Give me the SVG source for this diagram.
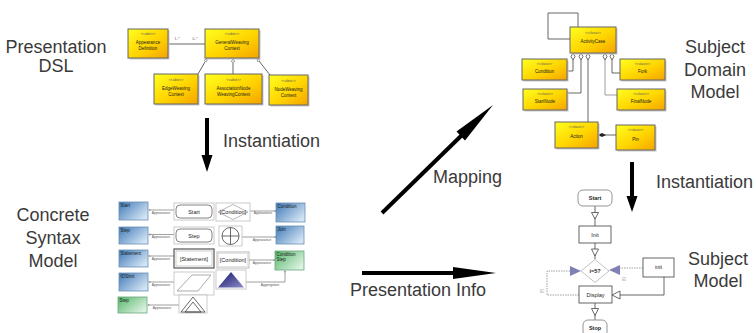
<svg xmlns="http://www.w3.org/2000/svg" width="756" height="333" viewBox="0 0 756 333">
  <defs>
    <linearGradient id="yel" x1="0" y1="0" x2="1" y2="1">
      <stop offset="0" stop-color="#ffff20"/>
      <stop offset="0.55" stop-color="#ffd400"/>
      <stop offset="1" stop-color="#f5a300"/>
    </linearGradient>
    <linearGradient id="blue" x1="0" y1="0" x2="1" y2="0.7">
      <stop offset="0" stop-color="#3f79b6"/>
      <stop offset="1" stop-color="#d3e4f4"/>
    </linearGradient>
    <linearGradient id="green" x1="0" y1="0" x2="1" y2="0.7">
      <stop offset="0" stop-color="#55b56a"/>
      <stop offset="1" stop-color="#dcf2e0"/>
    </linearGradient>
    <linearGradient id="navy" x1="0" y1="0" x2="1" y2="1">
      <stop offset="0" stop-color="#15166a"/>
      <stop offset="1" stop-color="#8c8cc8"/>
    </linearGradient>
    <marker id="gen" viewBox="0 0 6 6" refX="6" refY="3" markerWidth="4" markerHeight="4" orient="auto">
      <path d="M0,0 L6,3 L0,6 Z" fill="#fff" stroke="#666" stroke-width="1"/>
    </marker>
    <marker id="small" viewBox="0 0 6 6" refX="6" refY="3" markerWidth="3" markerHeight="3" orient="auto">
      <path d="M0,0 L6,3 L0,6" fill="none" stroke="#555" stroke-width="1"/>
    </marker>
    <style>
      .lbl { font-family: "Liberation Sans", Arial, sans-serif; font-size: 18px; fill: #3a3a3a; }
      .c { text-anchor: middle; }
      .uml { fill: url(#yel); stroke: #666; stroke-width: 1; }
      .shadow { fill: #c8c8c8; }
      .tiny { font-family: "Liberation Sans", Arial, sans-serif; font-size: 4.5px; fill: #1a1a1a; text-anchor: middle; }
      .micro { font-family: "Liberation Sans", Arial, sans-serif; font-size: 3.4px; fill: #555; text-anchor: middle; }
      .tag { font-family: "Liberation Sans", Arial, sans-serif; font-size: 4.5px; fill: #1a1a1a; }
      .blue { fill: url(#blue); stroke: #6a8fb5; stroke-width: 0.8; }
      .green { fill: url(#green); stroke: #6aa87a; stroke-width: 0.8; }
      .frame { fill: #fff; stroke: #bdbdbd; stroke-width: 0.8; }
      .edge { fill: none; stroke: #555; stroke-width: 0.9; }
      .thin { fill: none; stroke: #777; stroke-width: 0.7; }
      .dash { fill: none; stroke: #888; stroke-width: 0.8; stroke-dasharray: 1.5 1; }
      .big { fill: none; stroke: #000; stroke-width: 4; }
      .box { fill: #fff; stroke: #555; stroke-width: 0.9; }
      .fl { font-family: "Liberation Sans", Arial, sans-serif; font-size: 5.5px; fill: #222; text-anchor: middle; }
      .open { fill: #fff; stroke: #444; stroke-width: 0.8; }
    </style>
  </defs>

  <rect width="756" height="333" fill="#fff"/>

  <!-- section captions -->
  <g id="captions">
    <text class="lbl c" x="56" y="53">Presentation</text>
    <text class="lbl c" x="56" y="72">DSL</text>
    <text class="lbl" x="223" y="147">Instantiation</text>
    <text class="lbl c" x="53" y="221">Concrete</text>
    <text class="lbl c" x="53" y="244">Syntax</text>
    <text class="lbl c" x="53" y="267">Model</text>
    <text class="lbl" x="433" y="183">Mapping</text>
    <text class="lbl" x="350" y="296">Presentation Info</text>
    <text class="lbl c" x="715" y="53">Subject</text>
    <text class="lbl c" x="715" y="76">Domain</text>
    <text class="lbl c" x="715" y="98">Model</text>
    <text class="lbl" x="656" y="188">Instantiation</text>
    <text class="lbl c" x="718" y="265">Subject</text>
    <text class="lbl c" x="718" y="287">Model</text>
  </g>

  <!-- connectors -->
  <g id="connectors">
    <!-- big process arrows -->
    <g id="process-arrows">
      <line class="big" x1="207" y1="118" x2="207" y2="157" stroke-width="3.8"/>
      <polygon points="201.5,155 212.5,155 207,172" fill="#000"/>
      <line class="big" x1="632" y1="162" x2="632" y2="198" stroke-width="3.8"/>
      <polygon points="626.5,196 637.5,196 632,212" fill="#000"/>
      <line class="big" x1="382" y1="213" x2="462" y2="135" stroke-width="4.5"/>
      <polygon points="465,140.5 456.5,131.5 493,105" fill="#000"/>
      <line class="big" x1="362" y1="273" x2="456" y2="273" stroke-width="4.5"/>
      <polygon points="453,267 453,279 496,273" fill="#000"/>
    </g>

    <!-- presentation DSL edges -->
    <g id="dsl-edges">
      <line class="edge" x1="168" y1="44" x2="205" y2="44" stroke="#888"/>
      <text class="micro" x="177" y="40" font-size="4.5">1..*</text>
      <text class="micro" x="195" y="40" font-size="4.5">0..*</text>
      <line class="edge" x1="198" y1="74" x2="207" y2="58.5" marker-end="url(#gen)" stroke="#888"/>
      <line class="edge" x1="233" y1="74" x2="233" y2="58.5" marker-end="url(#gen)" stroke="#888"/>
      <line class="edge" x1="270" y1="75" x2="257" y2="58.5" marker-end="url(#gen)" stroke="#888"/>
    </g>

    <!-- subject domain edges -->
    <g id="domain-edges">
      <path class="edge" d="M578,27 V13 H548 V39 H570"/>
      <path class="edge" d="M573,60 V71 H567"/>
      <path class="edge" d="M581,60 V93 H567"/>
      <path class="edge" d="M588,60 V122"/>
      <path class="edge" d="M612,60 V73 H620"/>
      <path class="thin" d="M605,60 V95 H617"/>
      <path class="edge" d="M616,135 H598"/>
      <polygon points="598,135 602,133 606,135 602,137" fill="#222"/>
      <g class="open">
        <polygon points="573,53 575,56.5 573,60 571,56.5"/>
        <polygon points="581,53 583,56.5 581,60 579,56.5"/>
        <polygon points="588,53 590,56.5 588,60 586,56.5"/>
        <polygon points="605,53 607,56.5 605,60 603,56.5"/>
        <polygon points="612,53 614,56.5 612,60 610,56.5"/>
      </g>
    </g>

    <!-- concrete syntax edges -->
    <g id="syntax-edges">
      <line class="thin" x1="174" y1="210" x2="148.5" y2="210" marker-end="url(#small)"/>
      <text class="micro" x="161" y="213.5">Appearance</text>
      <line class="thin" x1="174" y1="234.5" x2="148.5" y2="234.5" marker-end="url(#small)"/>
      <text class="micro" x="161" y="238">Appearance</text>
      <line class="thin" x1="174" y1="256" x2="148.5" y2="256" marker-end="url(#small)"/>
      <text class="micro" x="161" y="259.5">Appearance</text>
      <line class="thin" x1="174" y1="282" x2="148.5" y2="282" marker-end="url(#small)"/>
      <text class="micro" x="161" y="285.5">Appearance</text>
      <line class="thin" x1="179" y1="305" x2="147.5" y2="305" marker-end="url(#small)"/>
      <text class="micro" x="162" y="308.5">Appearance</text>
      <line class="thin" x1="250" y1="211" x2="276" y2="211" marker-end="url(#small)"/>
      <text class="micro" x="263" y="214">Appearance</text>
      <line class="thin" x1="242" y1="237" x2="276" y2="237" marker-end="url(#small)"/>
      <text class="micro" x="262" y="240.5">Appearance</text>
      <line class="thin" x1="249" y1="260" x2="275" y2="260" marker-end="url(#small)"/>
      <text class="micro" x="262" y="263.5">Appearance</text>
      <path class="thin" d="M246,282 H285 V270.5" marker-end="url(#small)"/>
      <text class="micro" x="270" y="286">Aggregation</text>
    </g>

    <!-- subject model edges -->
    <g id="model-edges">
      <line class="edge" x1="595" y1="206" x2="595" y2="226"/>
      <polygon class="open" points="591.5,212.5 598.5,212.5 595,219"/>
      <line class="edge" x1="595" y1="243" x2="595" y2="259"/>
      <polygon class="open" points="591.5,249 598.5,249 595,256"/>
      <path class="dash" d="M579,295 H547 V271 H570"/>
      <polygon points="570,266 570,276 581,271" fill="#8080b5"/>
      <text class="micro" font-size="4.5" transform="translate(543,291) rotate(-90)">[f]</text>
      <path class="dash" d="M643,268 H620"/>
      <polygon points="620,265 620,275 609,270" fill="#8080b5"/>
      <text class="micro" font-size="4.5" transform="translate(625,279) rotate(-90)">[t]</text>
      <path class="edge" d="M664,277 V295 H620"/>
      <polygon class="open" points="612,295 620,291 620,299"/>
      <line class="edge" x1="595" y1="303" x2="595" y2="320"/>
      <polygon class="open" points="591.5,308.5 598.5,308.5 595,315.5"/>
    </g>
  </g>

  <!-- presentation DSL nodes -->
  <g id="appearance-definition">
    <rect class="shadow" x="129.5" y="30.5" width="40" height="29"/>
    <rect class="uml" x="128" y="29" width="40" height="29"/>
    <text class="micro" x="148" y="35">&lt;&lt;abst&gt;&gt;</text>
    <text class="tiny" x="148" y="43.5">Appearance</text>
    <text class="tiny" x="148" y="49.5">Definition</text>
  </g>
  <g id="general-weaving-context">
    <rect class="shadow" x="206.5" y="30.5" width="54" height="29"/>
    <rect class="uml" x="205" y="29" width="54" height="29"/>
    <text class="micro" x="232" y="35">&lt;&lt;abst&gt;&gt;</text>
    <text class="tiny" x="232" y="44">GeneralWeaving</text>
    <text class="tiny" x="232" y="50">Context</text>
  </g>
  <g id="edge-weaving-context">
    <rect class="shadow" x="155.5" y="75.5" width="44" height="30"/>
    <rect class="uml" x="154" y="74" width="44" height="30"/>
    <text class="micro" x="176" y="80.5">&lt;&lt;abst&gt;&gt;</text>
    <text class="tiny" x="176" y="89.5">EdgeWeaving</text>
    <text class="tiny" x="176" y="95.5">Context</text>
  </g>
  <g id="association-node-weaving-context">
    <rect class="shadow" x="206.5" y="75.5" width="57" height="30"/>
    <rect class="uml" x="205" y="74" width="57" height="30"/>
    <text class="micro" x="233.5" y="80.5">&lt;&lt;abst&gt;&gt;</text>
    <text class="tiny" x="233.5" y="89.5">AssociationNode</text>
    <text class="tiny" x="233.5" y="95.5">WeavingContext</text>
  </g>
  <g id="node-weaving-context">
    <rect class="shadow" x="270.5" y="76.5" width="39" height="30"/>
    <rect class="uml" x="269" y="75" width="39" height="30"/>
    <text class="micro" x="288.5" y="81.5">&lt;&lt;abst&gt;&gt;</text>
    <text class="tiny" x="288.5" y="90.5">NodeWeaving</text>
    <text class="tiny" x="288.5" y="96.5">Context</text>
  </g>

  <!-- subject domain nodes -->
  <g id="activity-case">
    <rect class="shadow" x="571.5" y="28.5" width="46" height="26"/>
    <rect class="uml" x="570" y="27" width="46" height="26"/>
    <text class="micro" x="593" y="33.5">&lt;&lt;class&gt;&gt;</text>
    <text class="tiny" x="593" y="42.5">ActivityCase</text>
  </g>
  <g id="condition">
    <rect class="shadow" x="523.5" y="60.5" width="45" height="21"/>
    <rect class="uml" x="522" y="59" width="45" height="21"/>
    <text class="micro" x="544.5" y="64.5">&lt;&lt;class&gt;&gt;</text>
    <text class="tiny" x="544.5" y="73">Condition</text>
  </g>
  <g id="start-node">
    <rect class="shadow" x="524.5" y="90.5" width="44" height="21"/>
    <rect class="uml" x="523" y="89" width="44" height="21"/>
    <text class="micro" x="545" y="94.5">&lt;&lt;class&gt;&gt;</text>
    <text class="tiny" x="545" y="103">StartNode</text>
  </g>
  <g id="fork">
    <rect class="shadow" x="621.5" y="60.5" width="45" height="21"/>
    <rect class="uml" x="620" y="59" width="45" height="21"/>
    <text class="micro" x="642.5" y="64.5">&lt;&lt;class&gt;&gt;</text>
    <text class="tiny" x="642.5" y="73">Fork</text>
  </g>
  <g id="final-node">
    <rect class="shadow" x="618.5" y="90.5" width="48" height="21"/>
    <rect class="uml" x="617" y="89" width="48" height="21"/>
    <text class="micro" x="641" y="94.5">&lt;&lt;class&gt;&gt;</text>
    <text class="tiny" x="641" y="103">FinalNode</text>
  </g>
  <g id="action">
    <rect class="shadow" x="556.5" y="123.5" width="43" height="26"/>
    <rect class="uml" x="555" y="122" width="43" height="26"/>
    <text class="micro" x="576.5" y="128">&lt;&lt;class&gt;&gt;</text>
    <text class="tiny" x="576.5" y="138">Action</text>
  </g>
  <g id="pin">
    <rect class="shadow" x="617.5" y="126.5" width="39" height="25"/>
    <rect class="uml" x="616" y="125" width="39" height="25"/>
    <text class="micro" x="635.5" y="131">&lt;&lt;class&gt;&gt;</text>
    <text class="tiny" x="635.5" y="141">Pin</text>
  </g>

  <!-- concrete syntax: model elements -->
  <g id="cs-start">
    <rect class="blue" x="119" y="202" width="29" height="18"/>
    <text class="tag" x="120.5" y="206.5">Start</text>
  </g>
  <g id="cs-step">
    <rect class="blue" x="119" y="227" width="29" height="17"/>
    <text class="tag" x="120.5" y="231.5">Step</text>
  </g>
  <g id="cs-statement">
    <rect class="blue" x="119" y="250" width="29" height="17"/>
    <text class="tag" x="120.5" y="254.5">Statement</text>
  </g>
  <g id="cs-iostmt">
    <rect class="blue" x="119" y="273" width="29" height="18"/>
    <text class="tag" x="120.5" y="277.5">IOStmt</text>
  </g>
  <g id="cs-step-green">
    <rect class="green" x="118" y="297" width="29" height="16"/>
    <text class="tag" x="119.5" y="301.5">Step</text>
  </g>
  <g id="cs-condition">
    <rect class="blue" x="276" y="203" width="29" height="19"/>
    <text class="tag" x="277.5" y="207.5">Condition</text>
  </g>
  <g id="cs-join">
    <rect class="blue" x="276" y="226" width="28" height="18"/>
    <text class="tag" x="277.5" y="230.5">Join</text>
  </g>
  <g id="cs-condition-step">
    <rect class="green" x="275" y="251" width="29" height="19"/>
    <text class="tag" x="276.5" y="255.5">Condition</text>
    <text class="tag" x="276.5" y="260.5">Step</text>
  </g>

  <!-- concrete syntax: figures -->
  <g id="fig-start">
    <rect class="frame" x="174" y="203" width="40" height="17"/>
    <rect x="176" y="205" width="36" height="13" rx="4" fill="#fff" stroke="#666" stroke-width="0.8"/>
    <text class="fl" x="194" y="213.5">Start</text>
  </g>
  <g id="fig-step">
    <rect class="frame" x="174" y="227" width="40" height="17"/>
    <rect x="176" y="229" width="36" height="13" rx="4" fill="#fff" stroke="#666" stroke-width="0.8"/>
    <text class="fl" x="194" y="237.5">Step</text>
  </g>
  <g id="fig-statement">
    <rect x="174" y="249" width="40" height="19" fill="#fff" stroke="#555" stroke-width="1.2"/>
    <rect x="176" y="251" width="36" height="15" fill="#fff" stroke="#aaa" stroke-width="0.6"/>
    <text class="fl" x="194" y="260.5">[Statement]</text>
  </g>
  <g id="fig-io">
    <rect class="frame" x="174" y="272" width="40" height="23"/>
    <polygon points="177,291 192,275 211,275 198,291" fill="#fff" stroke="#888" stroke-width="0.7"/>
  </g>
  <g id="fig-step-alt">
    <rect class="frame" x="179" y="295" width="28" height="18"/>
    <polygon points="181,312 193,297 205,312" fill="none" stroke="#444" stroke-width="0.8"/>
    <polygon points="185,312 193,302 201,312" fill="none" stroke="#444" stroke-width="0.8"/>
  </g>
  <g id="fig-condition">
    <rect class="frame" x="216" y="203" width="34" height="18"/>
    <polygon points="218,212 233,204.5 248,212 233,219.5" fill="#fff" stroke="#999" stroke-width="0.7"/>
    <text class="fl" x="233" y="214">[Condition]</text>
  </g>
  <g id="fig-join">
    <rect class="frame" x="219" y="226" width="23" height="20"/>
    <circle cx="230.5" cy="236" r="8.5" fill="#fff" stroke="#444" stroke-width="0.8"/>
    <line x1="222" y1="236" x2="239" y2="236" stroke="#444" stroke-width="0.8"/>
    <line x1="230.5" y1="227.5" x2="230.5" y2="244.5" stroke="#444" stroke-width="0.8"/>
  </g>
  <g id="fig-condition-step">
    <rect x="217" y="252" width="32" height="16" fill="#fff" stroke="#aaa" stroke-width="0.8"/>
    <rect x="218.5" y="253.5" width="29" height="13" fill="#fff" stroke="#ccc" stroke-width="0.5"/>
    <text class="fl" x="233" y="261.5">[Condition]</text>
  </g>
  <g id="fig-aggregate">
    <rect class="frame" x="216" y="270" width="30" height="19"/>
    <polygon points="218,287.5 231,272 244,287.5" fill="url(#navy)"/>
  </g>

  <!-- subject model nodes -->
  <g id="sm-start">
    <rect x="578" y="190" width="34" height="16" rx="5" fill="#fff" stroke="#888" stroke-width="0.9"/>
    <text class="fl" x="595" y="200" font-weight="bold">Start</text>
  </g>
  <g id="sm-init">
    <rect class="box" x="579" y="226" width="32" height="17"/>
    <text class="fl" x="595" y="236.5">Init</text>
  </g>
  <g id="sm-decision">
    <polygon points="581,271 595,259.5 609,271 595,282.5" fill="#fff" stroke="#bbb" stroke-width="0.9"/>
    <text class="fl" x="595" y="273" font-weight="bold">i=5?</text>
  </g>
  <g id="sm-init-var">
    <rect class="box" x="643" y="258" width="31" height="19"/>
    <text class="fl" x="658.5" y="269">init</text>
  </g>
  <g id="sm-display">
    <rect class="box" x="579" y="286" width="33" height="17"/>
    <text class="fl" x="595.5" y="296.5">Display</text>
  </g>
  <g id="sm-stop">
    <rect x="583" y="320" width="24" height="17" rx="5" fill="#fff" stroke="#888" stroke-width="0.9"/>
    <text class="fl" x="595" y="330" font-weight="bold">Stop</text>
  </g>
</svg>
